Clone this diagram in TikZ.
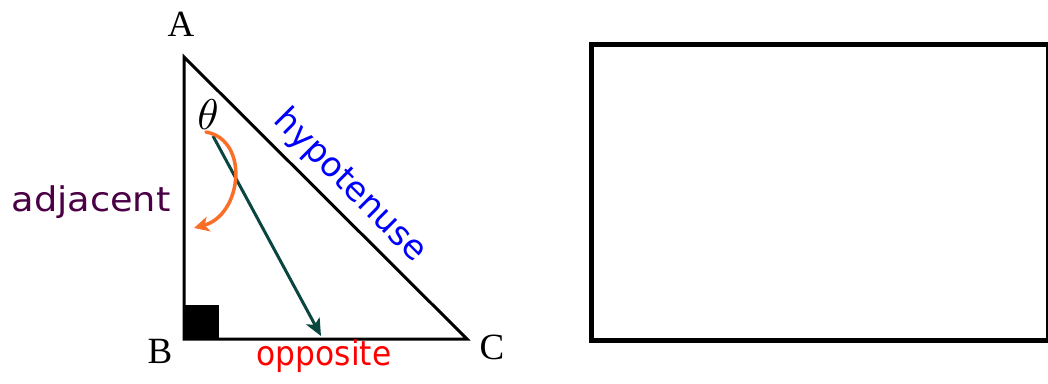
\documentclass[tikz,border=0pt]{standalone}
\usepackage{fontspec}
\setmainfont{Liberation Serif}
\newfontfamily\handfont{DejaVu Sans}
\usetikzlibrary{arrows.meta}
\definecolor{adjcol}{RGB}{75,0,70}
\definecolor{hypcol}{RGB}{0,0,255}
\definecolor{oppcol}{RGB}{255,0,0}
\definecolor{orangearr}{RGB}{250,110,40}
\definecolor{greenarr}{RGB}{10,70,64}
\tikzset{
  vertex/.style={font=\fontsize{37}{37}\selectfont, inner sep=0pt},
  sidelabel/.style={font=\handfont\fontsize{34}{34}\selectfont, inner sep=0pt},
  edge/.style={line width=3pt, line join=miter},
}
\begin{document}
\begin{tikzpicture}[x=1pt,y=-1pt]
\useasboundingbox (0,0) rectangle (1048,383);
% vertices
\coordinate (A) at (184,57);
\coordinate (B) at (184,339);
\coordinate (C) at (467,339);
\fill (184,305) rectangle (219,339);
\draw[edge] (A) -- (B) -- (C) -- cycle;
\node[vertex] (lA) at (181,24) {A};
\node[vertex] (lB) at (160,351) {B};
\node[vertex] (lC) at (492,347) {C};
\node[inner sep=0pt] (th) at (208,115) {\scalebox{4.3}{$\theta$}};
% labels
\node[sidelabel, text=adjcol, xscale=1.08] (adj) at (91,202) {adjacent};
\node[sidelabel, text=oppcol, xscale=0.92] (opp) at (324,356) {opposite};
\node[sidelabel, text=hypcol, rotate=-45] (hyp) at (350,186) {hypotenuse};
% arrows
\coordinate (gs) at (213,136);
\coordinate (ge) at (321,336);
\draw[greenarr, line width=3pt, -{Stealth[length=17pt,width=15pt,inset=4pt]}] (gs) -- (ge);
\coordinate (os) at (206,132);
\coordinate (oe) at (194,228);
\draw[orangearr, line width=3.5pt, line cap=round, -{Stealth[length=15pt,width=15pt,inset=4pt]}] (os) .. controls (250,140) and (242,215) .. (oe);
% box
\node[draw, line width=4.5pt, minimum width=457pt, minimum height=296pt, inner sep=0pt, anchor=north west] (box) at (589,42) {};
\end{tikzpicture}
\end{document}
